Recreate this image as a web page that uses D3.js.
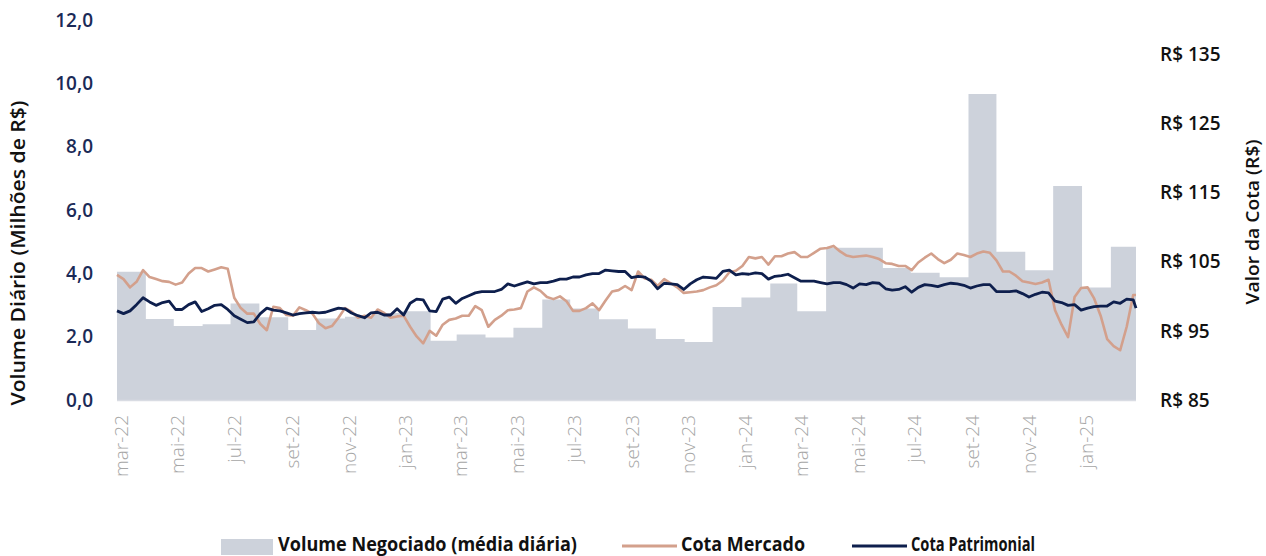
<!DOCTYPE html>
<html>
<head>
<meta charset="utf-8">
<script src="https://cdn.jsdelivr.net/npm/d3@7"></script>
<style>
  body { margin: 0; background: #fff; }
  svg text { font-family: "Open Sans", sans-serif; }
</style>
</head>
<body>
<div id="chart"></div>
<script>
// Volume negociado - média diária do mês (R$ milhões)
const volumeMonths = [
  "2022-03","2022-04","2022-05","2022-06","2022-07","2022-08","2022-09","2022-10","2022-11","2022-12",
  "2023-01","2023-02","2023-03","2023-04","2023-05","2023-06","2023-07","2023-08","2023-09","2023-10","2023-11","2023-12",
  "2024-01","2024-02","2024-03","2024-04","2024-05","2024-06","2024-07","2024-08","2024-09","2024-10","2024-11","2024-12",
  "2025-01","2025-02"
];
const volumeValues = [
  4.05, 2.56, 2.34, 2.39, 3.05, 2.61, 2.21, 2.57, 2.63, 2.75,
  2.80, 1.87, 2.07, 1.97, 2.28, 3.17, 2.89, 2.55, 2.26, 1.93, 1.83, 2.94,
  3.24, 3.68, 2.80, 4.81, 4.81, 4.17, 4.02, 3.88, 9.66, 4.68, 4.10, 6.76,
  3.55, 4.84
];

// cotas lidas semanalmente a partir de 01/03/2022, último ponto em 28/02/2025
const firstDate = "2022-03-01";
const lastDate = "2025-02-28";
const cotaMercado = [
  103.1, 102.5, 101.3, 102.1, 103.8, 102.8, 102.5, 102.2, 102.1, 101.7,
  102.0, 103.3, 104.1, 104.1, 103.6, 103.9, 104.2, 104.0, 99.8, 98.3,
  97.5, 97.5, 96.0, 95.1, 98.5, 98.3, 97.3, 97.2, 98.4, 98.0,
  97.5, 96.1, 95.4, 95.7, 96.9, 98.3, 97.8, 96.9, 97.2, 96.9,
  98.1, 97.6, 96.9, 97.1, 97.2, 95.6, 94.2, 93.2, 95.0, 94.3,
  95.9, 96.6, 96.8, 97.2, 97.2, 98.6, 98.0, 95.6, 96.6, 97.2,
  98.0, 98.1, 98.3, 100.7, 101.3, 100.8, 99.9, 99.6, 100.0, 99.3,
  97.9, 97.9, 98.3, 99.0, 98.0, 99.4, 100.7, 100.9, 101.5, 100.9,
  103.6, 102.6, 102.4, 101.5, 102.5, 101.9, 101.3, 100.5, 100.6, 100.7,
  100.9, 101.3, 101.6, 102.3, 103.5, 103.7, 104.4, 105.7, 105.5, 105.7,
  104.6, 105.8, 105.8, 106.2, 106.4, 105.7, 105.7, 106.3, 106.9, 107.0,
  107.3, 106.5, 105.9, 105.7, 105.8, 105.9, 105.7, 105.4, 104.8, 104.7,
  104.4, 104.4, 103.8, 104.9, 105.6, 106.2, 105.4, 104.8, 105.3, 106.2,
  106.0, 105.7, 106.2, 106.5, 106.3, 105.2, 103.6, 103.6, 103.0, 102.2,
  102.0, 101.8, 102.0, 102.4, 98.0, 95.9, 94.1, 99.9, 101.2, 101.3,
  99.7, 97.2, 93.8, 92.8, 92.2, 95.6, 100.2, 100.2
];
const cotaPatrimonial = [
  97.9, 97.5, 97.9, 98.8, 99.8, 99.2, 98.7, 99.1, 99.3, 98.1,
  98.1, 98.8, 99.2, 97.8, 98.2, 98.7, 98.8, 98.1, 97.2, 96.7,
  96.2, 96.3, 97.5, 98.3, 98.0, 97.9, 97.6, 97.3, 97.5, 97.6,
  97.7, 97.6, 97.7, 98.0, 98.3, 98.2, 97.6, 97.2, 96.9, 97.6,
  97.7, 97.3, 97.3, 98.2, 97.3, 99.0, 99.6, 99.5, 97.9, 97.8,
  99.6, 99.9, 99.0, 99.7, 100.1, 100.5, 100.7, 100.7, 100.7, 101.0,
  101.8, 101.5, 101.8, 102.1, 101.8, 102.0, 102.0, 102.2, 102.5, 102.5,
  102.8, 102.8, 103.1, 103.3, 103.3, 103.8, 103.7, 103.6, 103.6, 102.7,
  102.9, 102.8, 102.2, 101.1, 101.9, 101.8, 101.7, 101.0, 101.8, 102.4,
  102.8, 102.7, 102.6, 103.6, 103.8, 103.1, 103.3, 103.2, 103.4, 103.3,
  102.5, 102.9, 103.0, 103.2, 102.7, 102.2, 102.2, 102.2, 102.0, 101.8,
  102.0, 102.0, 101.7, 101.2, 101.8, 101.7, 102.0, 101.9, 101.1, 100.9,
  101.0, 101.4, 100.6, 101.3, 101.7, 101.6, 101.4, 101.7, 101.9, 101.8,
  101.6, 101.2, 101.5, 101.7, 101.7, 100.7, 100.7, 100.7, 100.8, 100.4,
  99.9, 100.3, 100.6, 100.5, 99.3, 99.1, 98.7, 98.8, 98.0, 98.3,
  98.5, 98.6, 98.6, 99.2, 99.0, 99.6, 99.5, 98.3
];

const leftTicks = [0, 2, 4, 6, 8, 10, 12];
const rightTicks = [85, 95, 105, 115, 125, 135];
const monthNames = ["jan","fev","mar","abr","mai","jun","jul","ago","set","out","nov","dez"];

const width = 1266, height = 556;
const plot = { left: 117, right: 1136, top: 20, bottom: 400 };
const navy = "#0e1f4d", tan = "#d3a08c", grayFill = "#cdd2db";

const parseDay = d3.timeParse("%Y-%m-%d");
const parseMonth = d3.timeParse("%Y-%m");
const start = parseDay(firstDate), end = parseDay(lastDate);

const weekDates = d3.timeDay.range(start, end, 7);
weekDates.push(end);

const volumeData = volumeMonths.map((m, i) => ({ date: parseMonth(m), v: volumeValues[i] }));
volumeData.push({ date: end, v: volumeValues[volumeValues.length - 1] });

const x = d3.scaleTime().domain([start, end]).range([plot.left, plot.right]);
const yL = d3.scaleLinear().domain([0, 12]).range([plot.bottom, plot.top]);
const yR = d3.scaleLinear().domain([85, 140]).range([plot.bottom, plot.top]);

const svg = d3.select("#chart").append("svg")
  .attr("width", width).attr("height", height);

// volume (área em degraus)
svg.append("path")
  .datum(volumeData)
  .attr("fill", grayFill)
  .attr("d", d3.area().curve(d3.curveStepAfter)
    .x(d => x(d.date)).y0(yL(0)).y1(d => yL(d.v)));

// linha base
svg.append("line")
  .attr("x1", plot.left).attr("x2", plot.right)
  .attr("y1", plot.bottom + 0.5).attr("y2", plot.bottom + 0.5)
  .attr("stroke", "#d9dce3").attr("stroke-width", 1.5);

const priceLine = d3.line().x((d, i) => x(weekDates[i])).y(d => yR(d));

svg.append("path").datum(cotaMercado)
  .attr("fill", "none").attr("stroke", tan).attr("stroke-width", 2.6)
  .attr("stroke-linejoin", "round").attr("d", priceLine);

svg.append("path").datum(cotaPatrimonial)
  .attr("fill", "none").attr("stroke", navy).attr("stroke-width", 2.8)
  .attr("stroke-linejoin", "round").attr("d", priceLine);

// eixo esquerdo
const fmtL = d => d3.format(".1f")(d).replace(".", ",");
svg.append("g").attr("transform", `translate(${plot.left - 21},0)`)
  .call(d3.axisLeft(yL).tickValues(leftTicks).tickFormat(fmtL).tickSize(0))
  .call(g => g.select(".domain").remove())
  .selectAll("text")
  .attr("font-size", 19).attr("font-weight", 600).attr("fill", "#1b2a57")
  .style("font-family", "'Open Sans', sans-serif");

// eixo direito
svg.append("g").attr("transform", `translate(${plot.right + 21},0)`)
  .call(d3.axisRight(yR).tickValues(rightTicks).tickFormat(d => "R$ " + d).tickSize(0))
  .call(g => g.select(".domain").remove())
  .selectAll("text")
  .attr("font-size", 19).attr("font-weight", 600).attr("fill", "#111")
  .style("font-family", "'Open Sans', sans-serif");

// eixo x (meses)
const xTicks = d3.timeMonth.range(start, parseDay("2025-02-01"), 2);
svg.append("g").selectAll("text")
  .data(xTicks).join("text")
  .attr("transform", d => `translate(${x(d) + 4},415) rotate(-90)`)
  .attr("text-anchor", "end").attr("dy", "0.35em")
  .attr("font-size", 19).attr("font-weight", 300).attr("fill", "#a6a6a6")
  .text(d => monthNames[d.getMonth()] + "-" + String(d.getFullYear()).slice(2));

// títulos dos eixos
svg.append("text")
  .attr("transform", "translate(18,253) rotate(-90)")
  .attr("text-anchor", "middle").attr("dy", "0.35em")
  .attr("font-size", 19).attr("font-weight", 600).attr("fill", "#111")
  .attr("textLength", 305).attr("lengthAdjust", "spacingAndGlyphs")
  .text("Volume Diário (Milhões de R$)");

svg.append("text")
  .attr("transform", "translate(1253,222) rotate(-90)")
  .attr("text-anchor", "middle").attr("dy", "0.35em")
  .attr("font-size", 18).attr("font-weight", 600).attr("fill", "#111")
  .attr("textLength", 165).attr("lengthAdjust", "spacingAndGlyphs")
  .text("Valor da Cota (R$)");

// legenda
const legendItems = [
  { label: "Volume Negociado (média diária)", x: 278, w: 299 },
  { label: "Cota Mercado", x: 681, w: 124 },
  { label: "Cota Patrimonial", x: 911, w: 124 }
];
const legend = svg.append("g").attr("font-size", 19).attr("font-weight", 700).attr("fill", "#111");
legend.append("rect").attr("x", 221).attr("y", 539).attr("width", 52).attr("height", 16).attr("fill", grayFill);
legend.append("line").attr("x1", 622).attr("x2", 677).attr("y1", 546).attr("y2", 546)
  .attr("stroke", tan).attr("stroke-width", 3);
legend.append("line").attr("x1", 852).attr("x2", 907).attr("y1", 546).attr("y2", 546)
  .attr("stroke", navy).attr("stroke-width", 3);
legend.selectAll("text").data(legendItems).join("text")
  .attr("x", d => d.x).attr("y", 551)
  .attr("textLength", d => d.w).attr("lengthAdjust", "spacingAndGlyphs")
  .text(d => d.label);
</script>
</body>
</html>
